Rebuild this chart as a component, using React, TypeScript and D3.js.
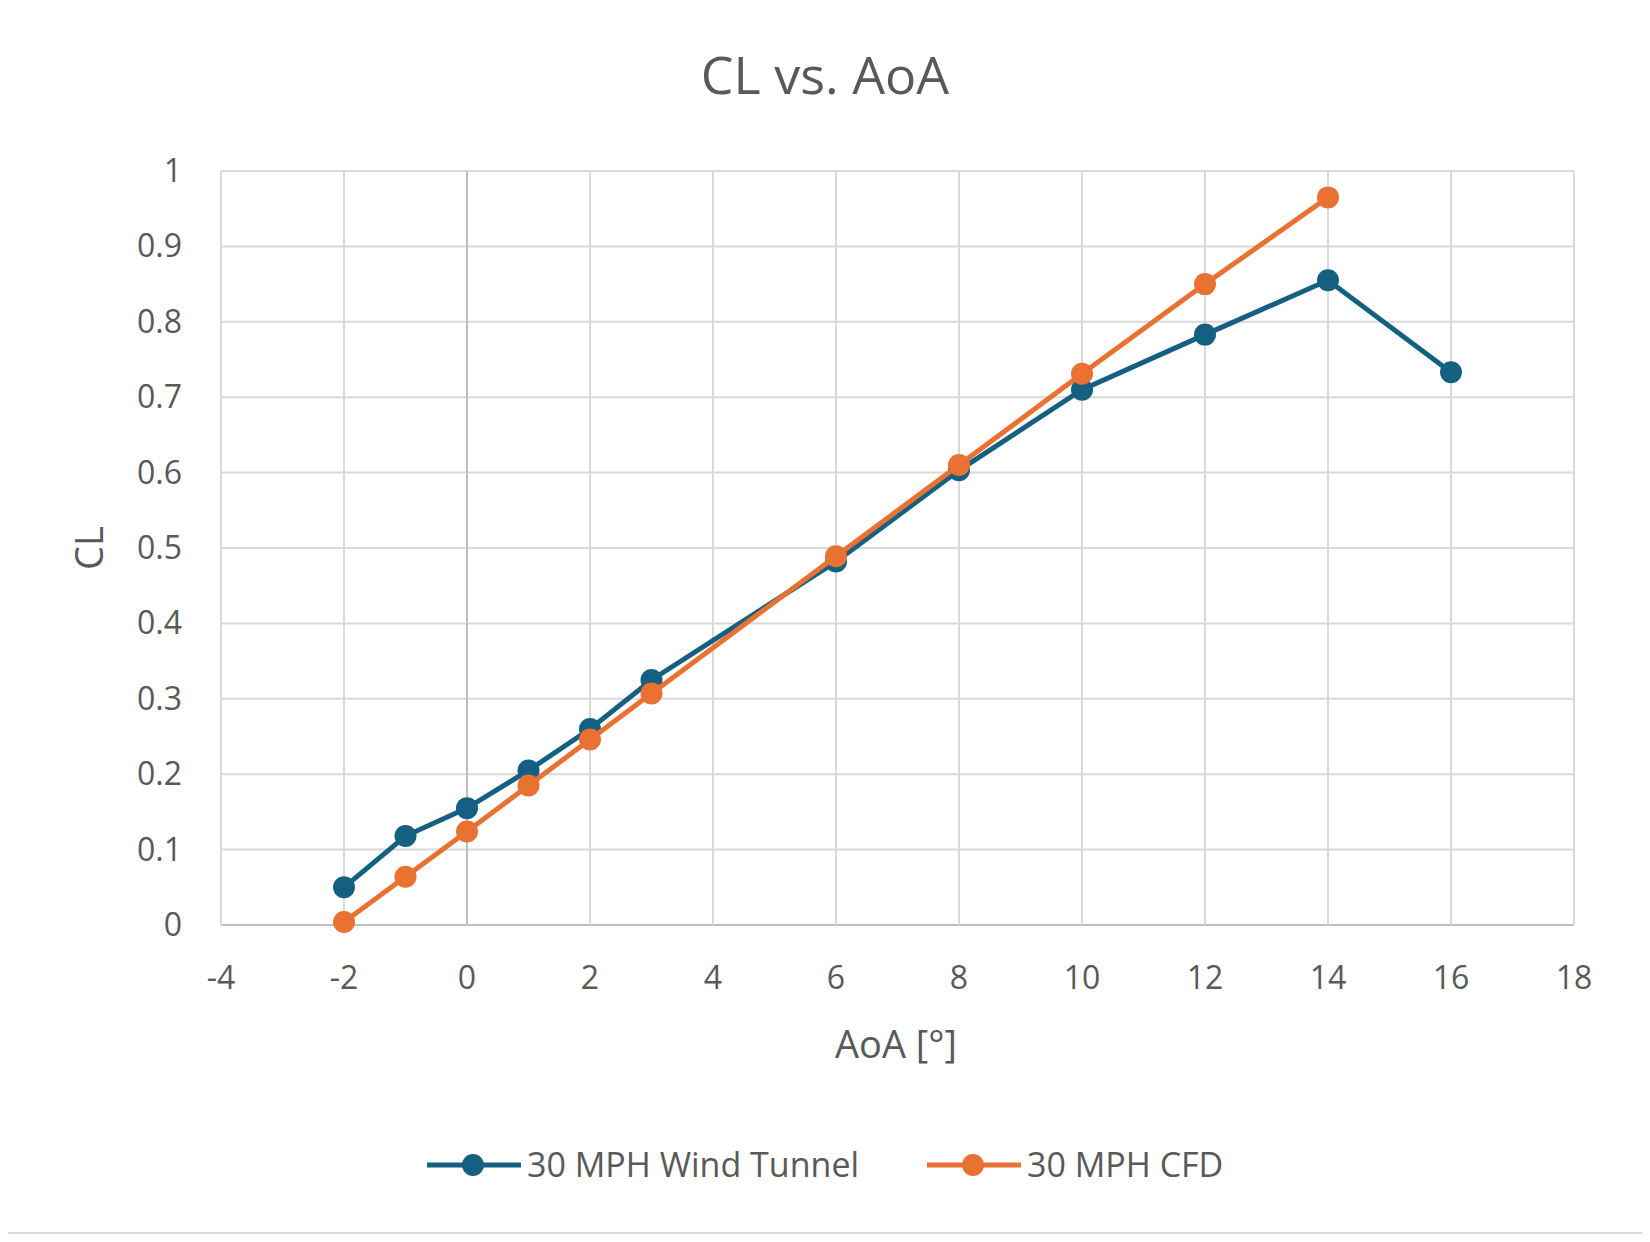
import React from "react";
import * as d3 from "d3";

const TUNNEL_AOA = [-2, -1, 0, 1, 2, 3, 6, 8, 10, 12, 14, 16];
const TUNNEL_CL = [0.05, 0.118, 0.155, 0.205, 0.26, 0.325, 0.482, 0.603, 0.71, 0.783, 0.855, 0.733];
const CFD_AOA = [-2, -1, 0, 1, 2, 3, 6, 8, 10, 12, 14];
const CFD_CL = [0.004, 0.064, 0.124, 0.185, 0.246, 0.307, 0.489, 0.61, 0.731, 0.85, 0.965];
const X_TICKS = d3.range(-4, 19, 2);
const Y_TICKS = d3.range(0, 11).map((v) => v / 10);

const BLUE = "#156082";
const ORANGE = "#E97132";
const FONT = "'Open Sans', 'Noto Sans', sans-serif";

const M = { left: 221, right: 1574, top: 171, bottom: 925 };

const App = () => {
  const x = d3.scaleLinear().domain([-4, 18]).range([M.left, M.right]);
  const y = d3.scaleLinear().domain([0, 1]).range([M.bottom, M.top]);
  const line = d3.line<[number, number]>().x((d) => x(d[0])).y((d) => y(d[1]));
  const series = [
    { name: "30 MPH Wind Tunnel", color: BLUE, pts: TUNNEL_AOA.map((a, i) => [a, TUNNEL_CL[i]] as [number, number]), lx: 427 },
    { name: "30 MPH CFD", color: ORANGE, pts: CFD_AOA.map((a, i) => [a, CFD_CL[i]] as [number, number]), lx: 927 },
  ];
  return (
    <svg width={1650} height={1242} style={{ display: "block", margin: -8 }} fontFamily={FONT}>
      <rect x={0} y={0} width={1650} height={1242} fill="#fff" />
      <rect x={4} y={2} width={1642} height={1231} fill="none" stroke="#d9d9d9" strokeWidth={2} />
      <text x={825} y={94} textAnchor="middle" fontSize={52} fill="#595959">CL vs. AoA</text>
      {Y_TICKS.map((t) => (
        <g key={"y" + t}>
          <line x1={M.left} x2={M.right} y1={y(t)} y2={y(t)} stroke={t === 0 ? "#bfbfbf" : "#d9d9d9"} strokeWidth={2} />
          <text x={182} y={y(t) + 11} textAnchor="end" fontSize={32} fill="#595959">{t}</text>
        </g>
      ))}
      {X_TICKS.map((t) => (
        <g key={"x" + t}>
          <line x1={x(t)} x2={x(t)} y1={M.top} y2={M.bottom} stroke={t === 0 ? "#bfbfbf" : "#d9d9d9"} strokeWidth={2} />
          <text x={x(t)} y={989} textAnchor="middle" fontSize={32} fill="#595959">{t}</text>
        </g>
      ))}
      <text x={896} y={1058} textAnchor="middle" fontSize={38} fill="#595959">AoA [°]</text>
      <text transform={`translate(103,548) rotate(-90)`} textAnchor="middle" fontSize={38} fill="#595959">CL</text>
      {series.map((s) => (
        <g key={s.name}>
          <path d={line(s.pts)!} fill="none" stroke={s.color} strokeWidth={5} />
          {s.pts.map((p, i) => (
            <circle key={i} cx={x(p[0])} cy={y(p[1])} r={11} fill={s.color} />
          ))}
          <line x1={s.lx} x2={s.lx + 94} y1={1165} y2={1165} stroke={s.color} strokeWidth={5} />
          <circle cx={s.lx + 46} cy={1165} r={11} fill={s.color} />
          <text x={s.lx + 100} y={1177} fontSize={34} fill="#595959">{s.name}</text>
        </g>
      ))}
    </svg>
  );
};

export default App;
